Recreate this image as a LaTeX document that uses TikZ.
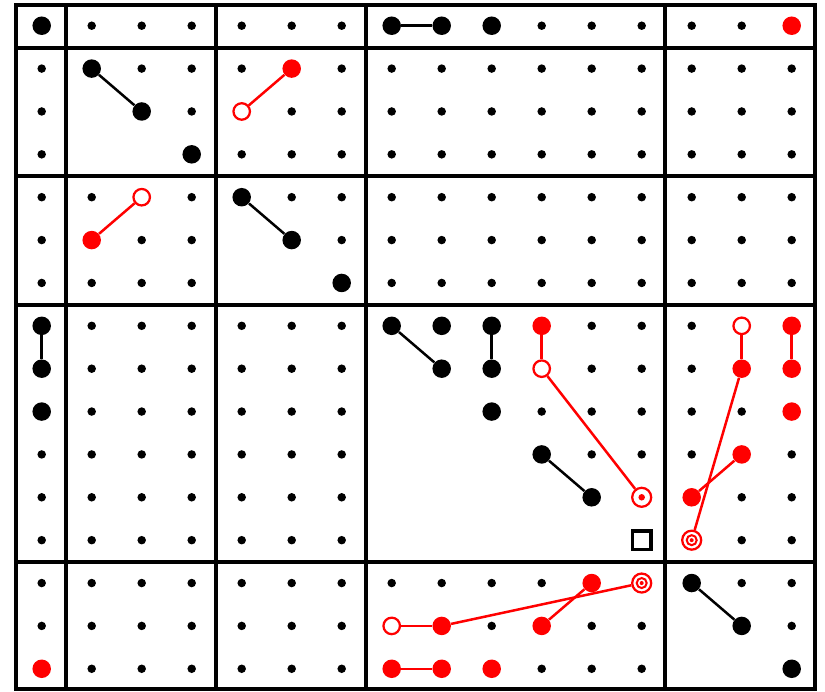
\documentclass[tikz,border=0pt]{standalone}
\usepackage{tikz}
\tikzset{
  grid line/.style={line width=0.8mm},
  small dot/.style={circle,fill,minimum size=1.7mm,inner sep=0pt},
  pivot dot/.style={circle,fill,minimum size=3.7mm,inner sep=0pt},
  red dot/.style={pivot dot,fill=red},
  red ring/.style={circle,draw=red,fill=white,line width=0.45mm,minimum size=3.3mm,inner sep=0pt},
  red target/.style={red ring,minimum size=3.8mm,
    path picture={\fill[red] (path picture bounding box.center) circle (0.65mm);}},
  red target2/.style={red ring,minimum size=3.8mm,
    path picture={\draw[red,line width=0.4mm] (path picture bounding box.center) circle (1mm);
      \fill[red] (path picture bounding box.center) circle (0.4mm);}},
  end box/.style={rectangle,draw,line width=0.7mm,minimum size=3.7mm,inner sep=0pt},
  pair edge/.style={line width=0.5mm},
  red edge/.style={pair edge,red},
}

\begin{document}
\begin{tikzpicture}[x=1cm,y=-0.8574cm]
  \useasboundingbox (-0.834,-0.6) rectangle (15.666,15.52);
  % blocks
  \draw[grid line] (-0.52,-0.48) rectangle (15.46,15.47);
  \foreach \c in {0.48,3.48,6.48,12.47}
    \draw[grid line] (\c,-0.48) -- (\c,15.47);
  \foreach \r in {0.52,3.5,6.52,12.5}
    \draw[grid line] (-0.52,\r) -- (15.46,\r);
  % small dots, none below the diagonal of a diagonal block
  \foreach \i in {0,...,15}{
    \foreach \j in {0,...,15}{
      \pgfmathtruncatemacro\nodot{(((\i>0)+(\i>3)+(\i>6)+(\i>12))==((\j>0)+(\j>3)+(\j>6)+(\j>12)))&&(\j>=\i)}
      \ifnum\nodot=0
        \node[small dot] (d\i-\j) at (\i,\j) {};
      \fi
    }
  }
  % marked entries
  \foreach \i/\j in {0/0,7/0,8/0,9/0,1/1,2/2,3/3,4/4,5/5,6/6,0/7,0/8,0/9,
                     7/7,8/7,9/7,8/8,9/8,9/9,10/10,11/11,13/13,14/14,15/15}
    \node[pivot dot] (p\i-\j) at (\i,\j) {};
  \foreach \i/\j in {15/0,5/1,1/5,10/7,15/7,14/8,15/8,15/9,14/10,13/11,
                     0/15,11/13,8/14,10/14,7/15,8/15,9/15}
    \node[red dot] (p\i-\j) at (\i,\j) {};
  \foreach \i/\j in {4/2,2/4,10/8,14/7,7/14}
    \node[red ring] (p\i-\j) at (\i,\j) {};
  \node[red target] (p12-11) at (12,11) {};
  \node[red target2] (p13-12) at (13,12) {};
  \node[red target2] (p12-13) at (12,13) {};
  \node[end box] (p12-12) at (12,12) {};
  % pairs
  \foreach \u/\v in {p7-0/p8-0,p1-1/p2-2,p4-4/p5-5,p0-7/p0-8,p7-7/p8-8,
                     p9-7/p9-8,p10-10/p11-11,p13-13/p14-14}
    \draw[pair edge] (\u) -- (\v);
  \foreach \u/\v in {p4-2/p5-1,p2-4/p1-5,p10-7/p10-8,p10-8/p12-11,p14-7/p14-8,
                     p15-7/p15-8,p14-8/p13-12,p14-10/p13-11,p7-14/p8-14,
                     p8-14/p12-13,p10-14/p11-13,p7-15/p8-15}
    \draw[red edge] (\u) -- (\v);
\end{tikzpicture}
\end{document}
